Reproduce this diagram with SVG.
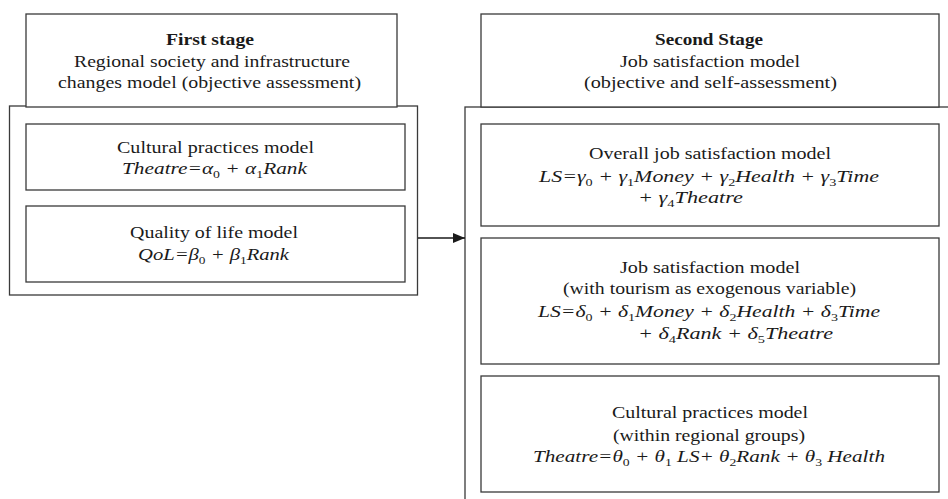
<svg xmlns="http://www.w3.org/2000/svg" width="948" height="499" viewBox="0 0 948 499">
<style>
.box{fill:#fff;stroke:#3a3a3a;stroke-width:1.3}
.frame{fill:none;stroke:#3a3a3a;stroke-width:1.3}
text{font-family:'Liberation Serif','Tinos','Times New Roman','DejaVu Serif',serif;font-size:17px;fill:#1a1a1a}
.b{font-weight:bold}
.eq{font-style:italic}
.s{font-size:11px;font-style:normal}
.conn{stroke:#1a1a1a;stroke-width:1.3;fill:none}
</style>
<defs>
<marker id="ah" viewBox="0 0 12 10" refX="12" refY="5" markerWidth="12" markerHeight="10" markerUnits="userSpaceOnUse" orient="auto">
<path d="M0,0 L12,5 L0,10 Z" fill="#1a1a1a"/>
</marker>
</defs>
<rect width="948" height="499" fill="#fff"/>

<g font-family="Liberation Serif, Times New Roman, DejaVu Serif, serif">
<g id="first-stage-frame">
<rect class="frame" x="9.5" y="106" width="408" height="189"/>
</g>
<g id="first-stage-header">
<rect class="box" x="26" y="14" width="371" height="93"/>
<text class="b" x="166" y="45" textLength="88" lengthAdjust="spacingAndGlyphs">First stage</text>
<text x="74" y="67" textLength="276" lengthAdjust="spacingAndGlyphs">Regional society  and infrastructure</text>
<text x="58" y="88" textLength="303" lengthAdjust="spacingAndGlyphs">changes model (objective assessment)</text>
</g>
<g id="cultural-practices-1">
<rect class="box" x="26" y="124" width="379" height="66"/>
<text x="117" y="153" textLength="197" lengthAdjust="spacingAndGlyphs">Cultural practices model</text>
<text class="eq" x="122" y="174" textLength="185" lengthAdjust="spacingAndGlyphs">Theatre=α<tspan class="s" dy="4">0</tspan><tspan dy="-4"> + α</tspan><tspan class="s" dy="4">1</tspan><tspan dy="-4">Rank</tspan></text>
</g>
<g id="quality-of-life">
<rect class="box" x="26" y="206" width="379" height="76"/>
<text x="130" y="238" textLength="168" lengthAdjust="spacingAndGlyphs">Quality of life model</text>
<text class="eq" x="138" y="260" textLength="151" lengthAdjust="spacingAndGlyphs">QoL=β<tspan class="s" dy="4">0</tspan><tspan dy="-4"> + β</tspan><tspan class="s" dy="4">1</tspan><tspan dy="-4">Rank</tspan></text>
</g>

<g id="second-stage-frame">
<rect class="frame" x="465" y="107" width="520" height="420"/>
</g>
<g id="second-stage-header">
<rect class="box" x="481" y="14" width="458" height="93"/>
<text class="b" x="655" y="45" textLength="108" lengthAdjust="spacingAndGlyphs">Second Stage</text>
<text x="620" y="67" textLength="180" lengthAdjust="spacingAndGlyphs">Job satisfaction model</text>
<text x="584" y="88" textLength="253" lengthAdjust="spacingAndGlyphs">(objective and self-assessment)</text>
</g>
<g id="overall-job-satisfaction">
<rect class="box" x="481" y="124" width="458" height="102"/>
<text x="589" y="159" textLength="242" lengthAdjust="spacingAndGlyphs">Overall job satisfaction model</text>
<text class="eq" x="539" y="182" textLength="340" lengthAdjust="spacingAndGlyphs">LS=γ<tspan class="s" dy="4">0</tspan><tspan dy="-4"> + γ</tspan><tspan class="s" dy="4">1</tspan><tspan dy="-4">Money + γ</tspan><tspan class="s" dy="4">2</tspan><tspan dy="-4">Health + γ</tspan><tspan class="s" dy="4">3</tspan><tspan dy="-4">Time</tspan></text>
<text class="eq" x="638" y="203" textLength="105" lengthAdjust="spacingAndGlyphs">+ γ<tspan class="s" dy="4">4</tspan><tspan dy="-4">Theatre</tspan></text>
</g>
<g id="job-satisfaction-tourism">
<rect class="box" x="481" y="238" width="458" height="126"/>
<text x="620" y="273" textLength="180" lengthAdjust="spacingAndGlyphs">Job satisfaction model</text>
<text x="563" y="294" textLength="293" lengthAdjust="spacingAndGlyphs">(with  tourism as exogenous variable)</text>
<text class="eq" x="538" y="317" textLength="342" lengthAdjust="spacingAndGlyphs">LS=δ<tspan class="s" dy="4">0</tspan><tspan dy="-4"> + δ</tspan><tspan class="s" dy="4">1</tspan><tspan dy="-4">Money + δ</tspan><tspan class="s" dy="4">2</tspan><tspan dy="-4">Health + δ</tspan><tspan class="s" dy="4">3</tspan><tspan dy="-4">Time</tspan></text>
<text class="eq" x="638" y="339" textLength="195" lengthAdjust="spacingAndGlyphs">+ δ<tspan class="s" dy="4">4</tspan><tspan dy="-4">Rank + δ</tspan><tspan class="s" dy="4">5</tspan><tspan dy="-4">Theatre</tspan></text>
</g>
<g id="cultural-practices-2">
<rect class="box" x="481" y="376" width="458" height="116"/>
<text x="612" y="418" textLength="196" lengthAdjust="spacingAndGlyphs">Cultural practices model</text>
<text x="613" y="441" textLength="192" lengthAdjust="spacingAndGlyphs">(within  regional groups)</text>
<text class="eq" x="533" y="462" textLength="352" lengthAdjust="spacingAndGlyphs">Theatre=θ<tspan class="s" dy="4">0</tspan><tspan dy="-4"> + θ</tspan><tspan class="s" dy="4">1</tspan><tspan dy="-4"> LS+ θ</tspan><tspan class="s" dy="4">2</tspan><tspan dy="-4">Rank + θ</tspan><tspan class="s" dy="4">3</tspan><tspan dy="-4"> Health</tspan></text>
</g>
</g>

<g id="connectors">
<line class="conn" x1="418" y1="238" x2="465" y2="238" marker-end="url(#ah)"/>
</g>
</svg>
